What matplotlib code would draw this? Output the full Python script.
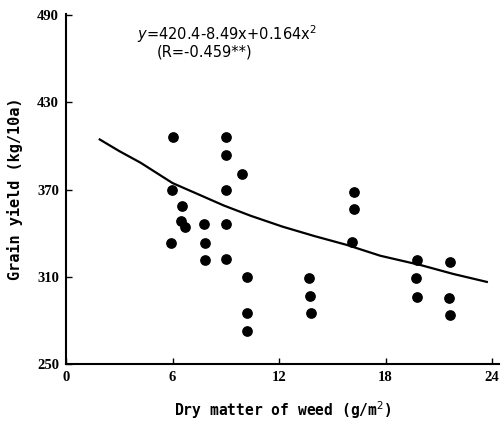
import matplotlib
matplotlib.use('Agg')
import matplotlib.pyplot as plt

# observed points (dry matter of weed, grain yield)
weed_x = [6.0, 9.0, 9.0, 9.9, 5.95, 9.0, 6.55, 6.5, 6.7, 7.75, 9.0,
          5.9, 7.8, 7.8, 9.0, 10.2, 10.2, 10.2,
          13.7, 13.75, 13.8, 16.2, 16.2, 16.1,
          19.75, 19.7, 19.75, 21.6, 21.55, 21.6]
yield_y = [406, 406, 393.5, 381, 370, 370, 358.5, 348.5, 344, 346, 346.5,
           333.5, 333.5, 321.5, 322, 310, 285, 273,
           309.5, 296.5, 285, 368.5, 356.5, 334,
           321.5, 309, 296, 320.5, 295.5, 283.5]

# regression curve
curve_x = [1.9, 3.0, 4.2, 5.1, 6.0, 7.5, 8.9, 10.4, 12.2, 14.0, 15.8,
           17.7, 20.0, 21.8, 23.7]
curve_y = [404.5, 396.5, 388.5, 381.5, 374.5, 366.5, 359, 352, 344.5,
           338, 332, 324.5, 318, 312, 306.5]

xticks = [0, 6, 12, 18, 24]
yticks = [250, 310, 370, 430, 490]

fig = plt.figure(figsize=(5.02, 4.22), dpi=100)
ax = fig.add_axes([0.1315, 0.1374, 0.863, 0.830])

ax.plot(curve_x, curve_y, color='black', lw=1.6)
ax.scatter(weed_x, yield_y, s=45, color='black', zorder=3)

ax.set_xlim(0, 24.4)
ax.set_ylim(250, 491)
ax.set_xticks(xticks)
ax.set_yticks(yticks)
for lab in ax.get_xticklabels() + ax.get_yticklabels():
    lab.set_fontfamily('Liberation Serif')
    lab.set_fontweight('bold')
    lab.set_fontsize(10.5)
ax.tick_params(direction='in', length=4, width=1, pad=5)

ax.spines['top'].set_visible(False)
ax.spines['right'].set_visible(False)
ax.spines['left'].set_linewidth(1.5)
ax.spines['bottom'].set_linewidth(1.5)

ax.set_xlabel('Dry matter of weed (g/m$^2$)', family='DejaVu Sans Mono',
              fontweight='bold', fontsize=10.5, labelpad=11)
ax.set_ylabel('Grain yield (kg/10a)', family='DejaVu Sans Mono',
              fontweight='bold', fontsize=11, labelpad=10)

ax.text(4.0, 477, r'$\it{y}$=420.4-8.49x+0.164x$^2$', fontsize=10.5,
        family='DejaVu Sans', ha='left', va='center')
ax.text(5.1, 465, '(R=-0.459**)', fontsize=10.5,
        family='DejaVu Sans', ha='left', va='center')

fig.savefig('out.png', dpi=100)
